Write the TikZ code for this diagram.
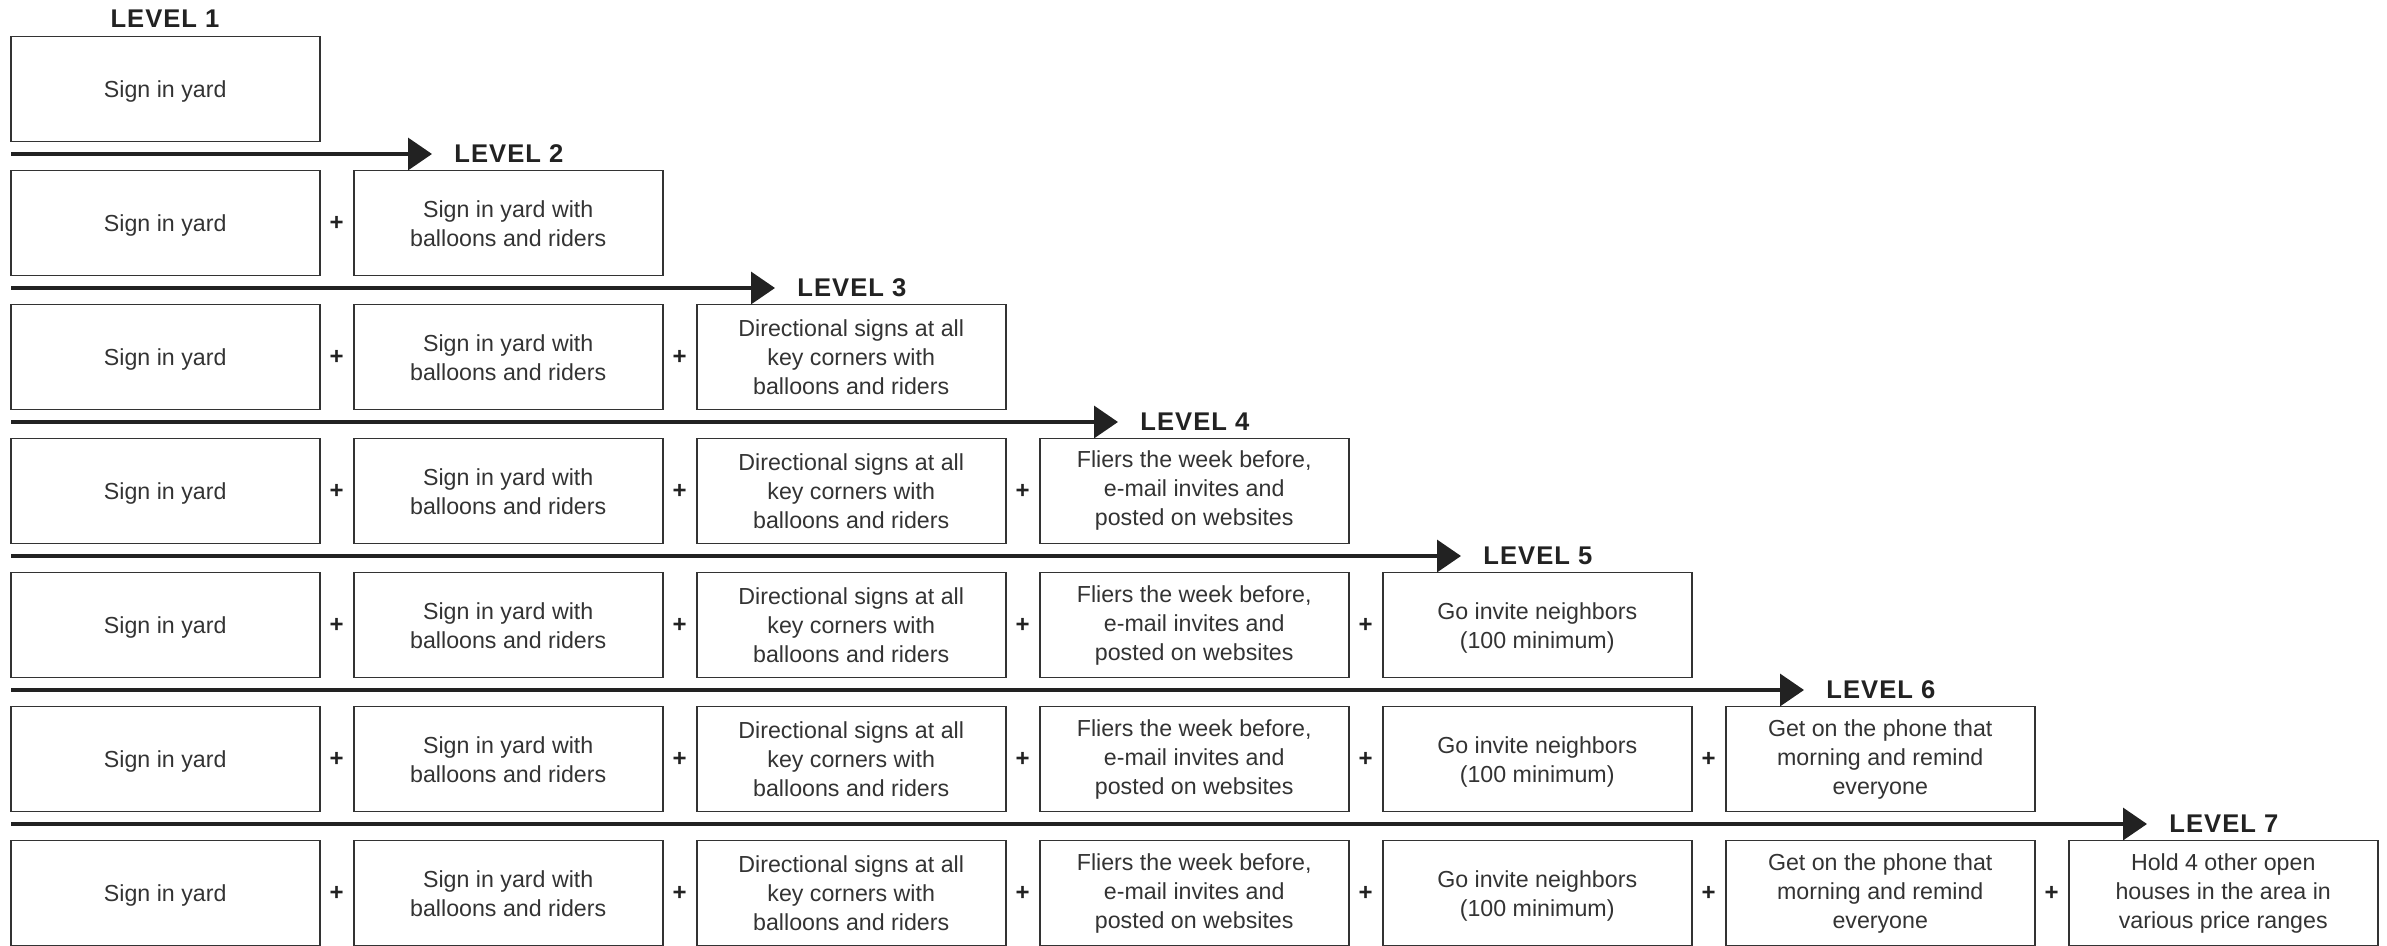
\documentclass[tikz,border=0pt]{standalone}
\usepackage{fontspec}
\setmainfont{Liberation Sans}
\newfontfamily\lvlfont[LetterSpace=4]{Liberation Sans}
\usetikzlibrary{arrows.meta}
\definecolor{ink}{HTML}{333333}
\definecolor{arr}{HTML}{222222}
\newcommand\lowtxt[1]{\raisebox{-1.5pt}[\height][\depth]{\begin{tabular}{@{}c@{}}#1\end{tabular}}}
\begin{document}
\begin{tikzpicture}[x=0.5pt,y=-0.5pt,
  stepbox/.style={draw=ink, line width=0.8pt, minimum width=154.5pt, minimum height=52.5pt,
    inner sep=0pt, align=center, font=\fontsize{11.6pt}{14.5pt}\selectfont, text=ink},
  plus/.style={font=\fontsize{12pt}{14pt}\selectfont\bfseries, text=arr, inner sep=0pt},
  lvl/.style={font=\lvlfont\fontsize{12.8pt}{15pt}\selectfont\bfseries, text=arr, inner sep=0pt},
  lvlarrow/.style={draw=arr, line width=1.7pt, -{Triangle[length=12pt,width=16pt]}}]
\useasboundingbox (0,0) rectangle (2387,946);
\node[lvl] (L1) at (165,19) {LEVEL 1};
\foreach \rr in {0,...,6} {
  \foreach \cc in {0,...,\rr} {
    \node[stepbox] (b-\rr-\cc) at ({165.2+343*\cc},{89+134*\rr}) {\ifcase\cc
      \lowtxt{Sign in yard}\or
      \lowtxt{Sign in yard with\\balloons and riders}\or
      Directional signs at all\\key corners with\\balloons and riders\or
      Fliers the week before,\\e-mail invites and\\posted on websites\or
      \lowtxt{Go invite neighbors\\(100 minimum)}\or
      Get on the phone that\\morning and remind\\everyone\or
      Hold 4 other open\\houses in the area in\\various price ranges\fi};
    \ifnum\cc>0
      \node[plus] (p-\rr-\cc) at ({-6.3+343*\cc},{89+134*\rr}) {+};
    \fi
  }
}
\foreach \rr [evaluate=\rr as \lv using int(\rr+2)] in {0,...,5} {
  \coordinate (s-\rr) at (11,{154+134*\rr});
  \coordinate (e-\rr) at ({432+343*\rr},{154+134*\rr});
  \draw[lvlarrow] (s-\rr) -- (e-\rr);
  \node[lvl, anchor=west] (L\lv) at ([xshift=11pt]e-\rr) {LEVEL \lv};
}
\end{tikzpicture}
\end{document}
